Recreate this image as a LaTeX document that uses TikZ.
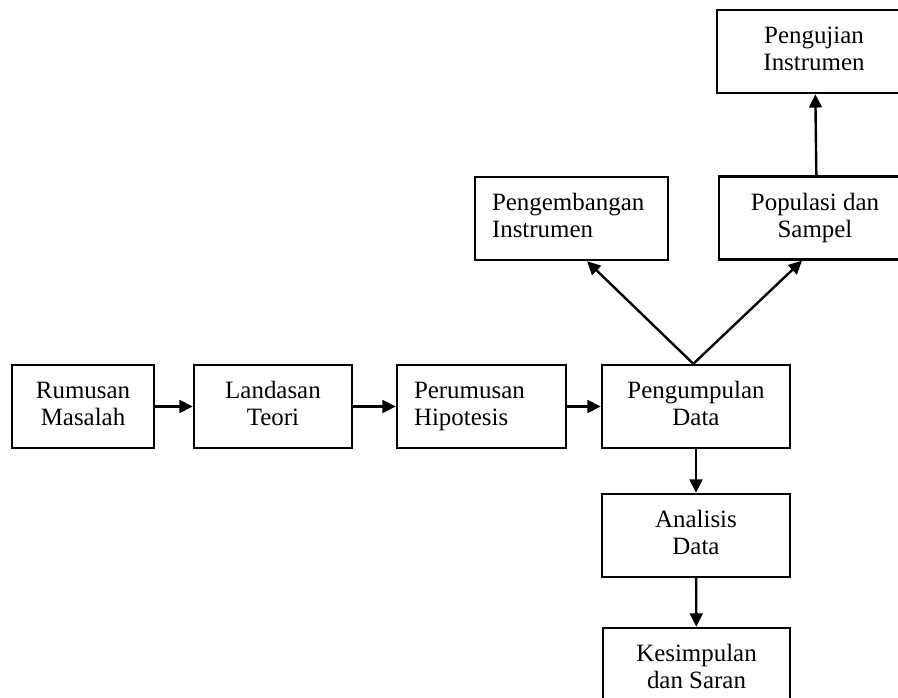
\documentclass[tikz,border=0pt]{standalone}
\usepackage{fontspec}
\setmainfont{Liberation Serif}
\usetikzlibrary{arrows.meta}
\begin{document}
\begin{tikzpicture}[x=0.75pt,y=-0.75pt,
  box/.style={draw, line width=1.8pt, minimum height=62.25pt, inner sep=0pt, align=center,
    font=\fontsize{18.7}{20.25}\selectfont,
    execute at end node={\rule[-4pt]{0pt}{4pt}}},
  lbox/.style={box, align=left, inner xsep=12.75pt},
  arr/.style={-{Triangle[length=10pt,width=9.5pt]}, line width=1.8pt},
]
\useasboundingbox (0,0) rectangle (898,698);
\node[box, minimum width=106.5pt] (rm) at (83,406.5) {Rumusan\\Masalah};
\node[box, minimum width=118.5pt] (lt) at (273,406.5) {Landasan\\Teori};
\node[lbox, minimum width=126.75pt, text width=101.25pt] (ph) at (481.5,406.5) {Perumusan\\Hipotesis};
\node[box, minimum width=141pt] (pd) at (696,406.5) {Pengumpulan\\Data};
\node[box, minimum width=141pt] (ad) at (696,535.5) {Analisis\\Data};
\node[box, minimum width=140.25pt] (ks) at (696.5,669.5) {Kesimpulan\\dan Saran};
\node[lbox, minimum width=144.75pt, text width=119.25pt] (pe) at (571.5,218.5) {Pengembangan\\Instrumen};
\node[box, minimum width=144pt] (po) at (815,218) {Populasi dan\\Sampel};
\node[box, minimum width=145.5pt] (pj) at (814,51.5) {Pengujian\\Instrumen};

\draw[arr] (rm) -- (lt);
\draw[arr] (lt) -- (ph);
\draw[arr] (ph) -- (pd);
\draw[arr] (pd) -- (ad);
\draw[arr] (ad) -- (ks);
\draw[arr] ([xshift=-2pt]pd.north) -- (pe.-70);
\draw[arr] ([xshift=-2pt]pd.north) -- (po.-107);
\draw[arr] ([xshift=1pt]po.north) -- ([xshift=1pt]pj.south);
\end{tikzpicture}
\end{document}
